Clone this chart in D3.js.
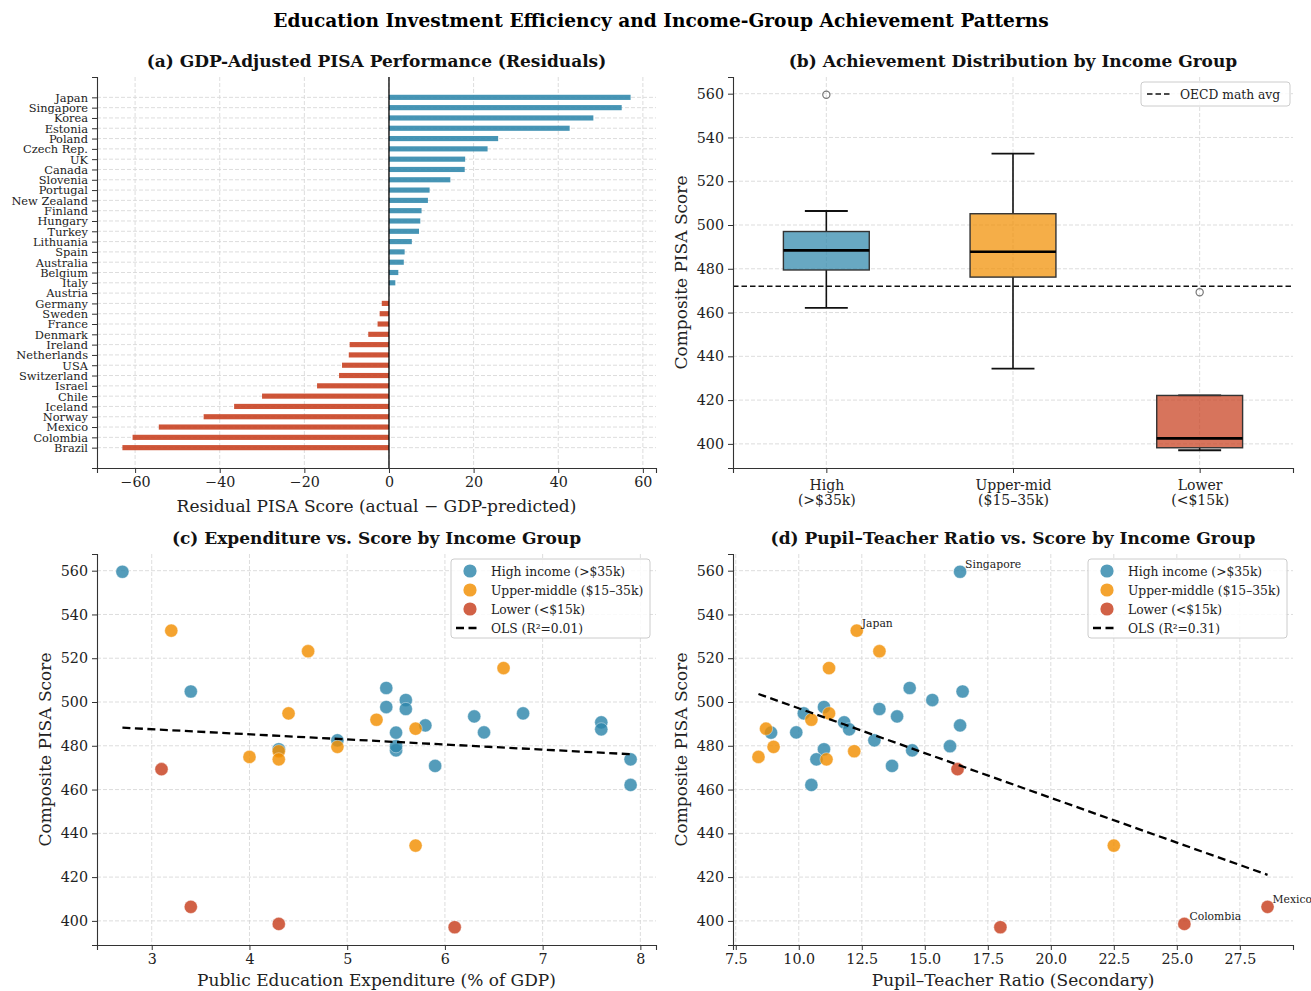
<!DOCTYPE html>
<html>
<head>
<meta charset="utf-8">
<script src="https://cdn.jsdelivr.net/npm/d3@7"></script>
<style>
body { margin: 0; background: #fff; }
text { font-family: "DejaVu Serif", serif; }
</style>
</head>
<body>
<script>
var width = 1311, height = 991;

// ---- data ----
// (a) residuals, sorted from top to bottom
var resCountries = ["Japan","Singapore","Korea","Estonia","Poland","Czech Rep.","UK","Canada","Slovenia","Portugal",
  "New Zealand","Finland","Hungary","Turkey","Lithuania","Spain","Australia","Belgium","Italy","Austria",
  "Germany","Sweden","France","Denmark","Ireland","Netherlands","USA","Switzerland","Israel","Chile",
  "Iceland","Norway","Mexico","Colombia","Brazil"];
var resValues = [57.1, 55.0, 48.3, 42.7, 25.8, 23.3, 18.0, 17.9, 14.5, 9.6,
  9.2, 7.7, 7.4, 7.1, 5.4, 3.7, 3.5, 2.2, 1.5, 0.1,
  -1.7, -2.2, -2.7, -4.9, -9.3, -9.5, -11.1, -11.8, -17.0, -30.0,
  -36.6, -43.8, -54.4, -60.6, -63.0];

// income groups
var groupNames = ["High income (>$35k)", "Upper-middle ($15–35k)", "Lower (<$15k)"];
var groupTicks = [["High", "(>$35k)"], ["Upper-mid", "($15–35k)"], ["Lower", "(<$15k)"]];
var groupColors = ["#2E86AB", "#F18F01", "#C73E1D"];
var oecdMathAvg = 472;

// (b)(c)(d) one entry per country
var ptGroup = [0,0,0,0,0,0,0,0,0,0, 0,0,0,0,0,0,0,0,0,0, 1,1,1,1,1,1,1,1,1,1,1, 2,2,2,2];
var ptScore = [559.5, 504.8, 506.4, 500.9, 496.8, 493.4, 497.7, 494.8, 490.7, 487.5,
  489.3, 486.0, 486.1, 482.5, 477.9, 479.8, 478.4, 473.8, 470.8, 462.1,
  532.6, 523.2, 515.5, 494.8, 491.9, 487.8, 479.5, 477.5, 474.9, 473.8, 434.4,
  469.3, 406.4, 398.6, 397.1];
var ptSpend = [2.7, 3.4, 5.4, 5.6, 5.6, 6.3, 5.4, 6.8, 7.6, 7.6,
  5.8, 5.5, 6.4, 4.9, 5.5, 5.5, 4.3, 7.9, 5.9, 7.9,
  3.2, 4.6, 6.6, 4.4, 5.3, 5.7, 4.9, 4.3, 4.0, 4.3, 5.7,
  3.1, 3.4, 4.3, 6.1];
var ptRatio = [16.4, 16.5, 14.4, 15.3, 13.2, 13.9, 11.0, 10.2, 11.8, 12.0,
  16.4, 8.9, 9.9, 13.0, 14.5, 16.0, 11.0, 10.7, 13.7, 10.5,
  12.3, 13.2, 11.2, 11.2, 10.5, 8.7, 9.0, 12.2, 8.4, 11.1, 22.5,
  16.3, 28.6, 25.3, 18.0];
var ptLabel = ["Singapore","","","","","","","","","", "","","","","","","","","","",
  "Japan","","","","","","","","","","", "","Mexico","Colombia",""];

var points = ptScore.map(function(s, i){
    return {score: s, spend: ptSpend[i], ratio: ptRatio[i], group: ptGroup[i], label: ptLabel[i]};
});

// ---- page ----
var svg = d3.select("body")
.append("svg")
.attr("width", width)
.attr("height", height)
.attr("id", "svg");

var textColor = "#222";
var gridColor = "#d9d9d9";

svg.append("text")
.attr("x", 661).attr("y", 27)
.attr("text-anchor", "middle")
.attr("font-size", "18.6px")
.attr("font-weight", "bold")
.attr("fill", "#000")
.text("Education Investment Efficiency and Income-Group Achievement Patterns");

var colL = [97, 656], colR = [733, 1293];
var rowT = [77, 468], rowB = [554, 945];

function padded(lo, hi){
    var m = (hi - lo) * 0.05;
    return [lo - m, hi + m];
}

function styleAxis(g, size){
    g.selectAll(".domain").attr("stroke", "#333").attr("stroke-width", 1.1);
    g.selectAll(".tick line").attr("stroke", "#333").attr("stroke-width", 1);
    g.selectAll(".tick text").attr("fill", textColor).attr("font-size", size || "14.3px")
     .attr("font-family", "DejaVu Serif");
}

function title(x, y, t){
    svg.append("text").attr("x", x).attr("y", y)
    .attr("text-anchor", "middle").attr("font-size", "17px").attr("font-weight", "bold")
    .attr("fill", "#111").text(t);
}

function xLabel(x, y, t){
    svg.append("text").attr("x", x).attr("y", y)
    .attr("text-anchor", "middle").attr("font-size", "17px").attr("fill", textColor).text(t);
}

function yLabel(x, y, t){
    svg.append("text").attr("transform", "translate(" + x + "," + y + ") rotate(-90)")
    .attr("text-anchor", "middle").attr("font-size", "17px").attr("fill", textColor).text(t);
}

function grid(g, xs, ys, xVals, yVals, xr, yr){
    g.selectAll(".gx").data(xVals).enter().append("line")
    .attr("x1", function(d){ return xs(d); }).attr("x2", function(d){ return xs(d); })
    .attr("y1", yr[0]).attr("y2", yr[1])
    .attr("stroke", gridColor).attr("stroke-width", 0.9).attr("stroke-dasharray", "4,2");
    g.selectAll(".gy").data(yVals).enter().append("line")
    .attr("y1", function(d){ return ys(d); }).attr("y2", function(d){ return ys(d); })
    .attr("x1", xr[0]).attr("x2", xr[1])
    .attr("stroke", gridColor).attr("stroke-width", 0.9).attr("stroke-dasharray", "4,2");
}

// ---------- (a) residual bars ----------
var n = resCountries.length;
var barH = 0.5;
var xA = d3.scaleLinear().domain(padded(d3.min(resValues), d3.max(resValues))).range(colL);
var yA = d3.scaleLinear().domain(padded(-barH / 2, n - 1 + barH / 2)).range(rowT);
var gA = svg.append("g");

grid(gA, xA, yA, [-60, -40, -20, 0, 20, 40, 60], d3.range(n), colL, rowT);

gA.selectAll(".bar").data(resValues).enter().append("rect")
.attr("x", function(d){ return xA(Math.min(0, d)); })
.attr("y", function(d, i){ return yA(i - barH / 2); })
.attr("width", function(d){ return Math.abs(xA(d) - xA(0)); })
.attr("height", function(){ return yA(barH) - yA(0); })
.attr("fill", function(d){ return d >= 0 ? groupColors[0] : groupColors[2]; })
.attr("fill-opacity", 0.88);

gA.append("line")
.attr("x1", xA(0)).attr("x2", xA(0)).attr("y1", rowT[0]).attr("y2", rowT[1])
.attr("stroke", "#000").attr("stroke-width", 1.3);

var axA = gA.append("g").attr("transform", "translate(0," + rowT[1] + ")")
.call(d3.axisBottom(xA).tickValues([-60, -40, -20, 0, 20, 40, 60]).tickSizeOuter(0).tickSize(5).tickPadding(4));
styleAxis(axA);
var ayA = gA.append("g").attr("transform", "translate(" + colL[0] + ",0)")
.call(d3.axisLeft(yA).tickValues(d3.range(n)).tickFormat(function(i){ return resCountries[i]; })
  .tickSizeOuter(0).tickSize(5).tickPadding(4));
styleAxis(ayA, "11.4px");
ayA.selectAll(".tick text").attr("dy", "0.34em");

title((colL[0] + colL[1]) / 2, 67, "(a) GDP-Adjusted PISA Performance (Residuals)");
xLabel((colL[0] + colL[1]) / 2, 512, "Residual PISA Score (actual \u2212 GDP-predicted)");

// ---------- (b) box plots ----------
var scoreDomain = padded(d3.min(ptScore), d3.max(ptScore));
var xB = d3.scaleLinear().domain([0.5, 3.5]).range(colR);
var yB = d3.scaleLinear().domain(scoreDomain).range([rowT[1], rowT[0]]);
var gB = svg.append("g");
var scoreTicks = d3.range(400, 561, 20);

grid(gB, xB, yB, [1, 2, 3], scoreTicks, colR, rowT);

var boxes = groupNames.map(function(name, k){
    var v = points.filter(function(p){ return p.group === k; })
                  .map(function(p){ return p.score; }).sort(d3.ascending);
    var q1 = d3.quantile(v, 0.25), med = d3.quantile(v, 0.5), q3 = d3.quantile(v, 0.75);
    var iqr = q3 - q1;
    var inside = v.filter(function(d){ return d >= q1 - 1.5 * iqr && d <= q3 + 1.5 * iqr; });
    return {
        pos: k + 1, q1: q1, med: med, q3: q3,
        lo: Math.min(q1, d3.min(inside)), hi: Math.max(q3, d3.max(inside)),
        out: v.filter(function(d){ return d < q1 - 1.5 * iqr || d > q3 + 1.5 * iqr; }),
        color: groupColors[k]
    };
});

var boxW = 0.46;
boxes.forEach(function(b){
    var g = gB.append("g");
    var cx = xB(b.pos);
    var cap = (xB(boxW / 4) - xB(0));
    [[b.q3, b.hi], [b.q1, b.lo]].forEach(function(w){
        g.append("line").attr("x1", cx).attr("x2", cx).attr("y1", yB(w[0])).attr("y2", yB(w[1]))
        .attr("stroke", "#111").attr("stroke-width", 1.6);
        g.append("line").attr("x1", cx - cap).attr("x2", cx + cap).attr("y1", yB(w[1])).attr("y2", yB(w[1]))
        .attr("stroke", "#111").attr("stroke-width", 1.8);
    });
    g.append("rect")
    .attr("x", xB(b.pos - boxW / 2)).attr("width", xB(boxW) - xB(0))
    .attr("y", yB(b.q3)).attr("height", yB(b.q1) - yB(b.q3))
    .attr("fill", b.color).attr("fill-opacity", 0.72)
    .attr("stroke", "#333").attr("stroke-width", 1.4);
    g.append("line").attr("x1", xB(b.pos - boxW / 2)).attr("x2", xB(b.pos + boxW / 2))
    .attr("y1", yB(b.med)).attr("y2", yB(b.med))
    .attr("stroke", "#000").attr("stroke-width", 2.6);
    g.selectAll(".out").data(b.out).enter().append("circle")
    .attr("cx", cx).attr("cy", function(d){ return yB(d); }).attr("r", 3.6)
    .attr("fill", "none").attr("stroke", "#777").attr("stroke-width", 1.2);
});

gB.append("line")
.attr("x1", colR[0]).attr("x2", colR[1]).attr("y1", yB(oecdMathAvg)).attr("y2", yB(oecdMathAvg))
.attr("stroke", "#111").attr("stroke-width", 1.5).attr("stroke-dasharray", "5.5,3");

var axB = gB.append("g").attr("transform", "translate(0," + rowT[1] + ")")
.call(d3.axisBottom(xB).tickValues([1, 2, 3]).tickFormat("").tickSizeOuter(0).tickSize(5));
styleAxis(axB);
axB.selectAll(".tick").each(function(d){
    var t = d3.select(this).append("text").attr("fill", textColor).attr("font-size", "14px")
    .attr("text-anchor", "middle").attr("font-family", "DejaVu Serif");
    t.append("tspan").attr("x", 0).attr("y", 22).text(groupTicks[d - 1][0]);
    t.append("tspan").attr("x", 0).attr("y", 37).text(groupTicks[d - 1][1]);
});
var ayB = gB.append("g").attr("transform", "translate(" + colR[0] + ",0)")
.call(d3.axisLeft(yB).tickValues(scoreTicks).tickSizeOuter(0).tickSize(5).tickPadding(4));
styleAxis(ayB);

// legend (b)
var lgB = gB.append("g").attr("transform", "translate(1141,82)");
lgB.append("rect").attr("width", 149).attr("height", 24).attr("rx", 3)
.attr("fill", "#fff").attr("fill-opacity", 0.85).attr("stroke", "#ccc").attr("stroke-width", 1);
lgB.append("line").attr("x1", 6).attr("x2", 31).attr("y1", 12).attr("y2", 12)
.attr("stroke", "#111").attr("stroke-width", 1.5).attr("stroke-dasharray", "5.5,3");
lgB.append("text").attr("x", 39).attr("y", 16.5).attr("font-size", "12.3px").attr("fill", textColor)
.text("OECD math avg");

title((colR[0] + colR[1]) / 2, 67, "(b) Achievement Distribution by Income Group");
yLabel(687, (rowT[0] + rowT[1]) / 2, "Composite PISA Score");

// ---------- (c) and (d) scatter ----------
function ols(xs, ys){
    var mx = d3.mean(xs), my = d3.mean(ys);
    var sxy = d3.sum(xs, function(x, i){ return (x - mx) * (ys[i] - my); });
    var sxx = d3.sum(xs, function(x){ return (x - mx) * (x - mx); });
    var b = sxy / sxx, a = my - b * mx;
    var ssr = d3.sum(xs, function(x, i){ var e = ys[i] - (a + b * x); return e * e; });
    var sst = d3.sum(ys, function(y){ return (y - my) * (y - my); });
    return {a: a, b: b, r2: 1 - ssr / sst};
}

function scatterPanel(key, xr, xTicks, xFmt, titleText, xText, yLabelX){
    var xv = points.map(function(p){ return p[key]; });
    var xs = d3.scaleLinear().domain(padded(d3.min(xv), d3.max(xv))).range(xr);
    var ys = d3.scaleLinear().domain(scoreDomain).range([rowB[1], rowB[0]]);
    var g = svg.append("g");

    grid(g, xs, ys, xTicks, scoreTicks, xr, rowB);

    g.selectAll(".pt").data(points).enter().append("circle")
    .attr("cx", function(d){ return xs(d[key]); })
    .attr("cy", function(d){ return ys(d.score); })
    .attr("r", 6.6)
    .attr("fill", function(d){ return groupColors[d.group]; })
    .attr("fill-opacity", 0.82)
    .attr("stroke", "#fff").attr("stroke-width", 0.4);

    var fit = ols(xv, ptScore);
    var x0 = d3.min(xv), x1 = d3.max(xv);
    g.append("line")
    .attr("x1", xs(x0)).attr("y1", ys(fit.a + fit.b * x0))
    .attr("x2", xs(x1)).attr("y2", ys(fit.a + fit.b * x1))
    .attr("stroke", "#000").attr("stroke-width", 2.3).attr("stroke-dasharray", "8,4.5");

    g.selectAll(".lab").data(points.filter(function(p){ return p.label && key === "ratio"; }))
    .enter().append("text")
    .attr("x", function(d){ return xs(d[key]) + 5; })
    .attr("y", function(d){ return ys(d.score) - 4; })
    .attr("font-size", "10.8px").attr("fill", textColor)
    .text(function(d){ return d.label; });

    var ax = g.append("g").attr("transform", "translate(0," + rowB[1] + ")")
    .call(d3.axisBottom(xs).tickValues(xTicks).tickFormat(d3.format(xFmt)).tickSizeOuter(0).tickSize(5).tickPadding(4));
    styleAxis(ax);
    var ay = g.append("g").attr("transform", "translate(" + xr[0] + ",0)")
    .call(d3.axisLeft(ys).tickValues(scoreTicks).tickSizeOuter(0).tickSize(5).tickPadding(4));
    styleAxis(ay);

    // legend
    var lx = xr[1] - 205, ly = 559;
    var lg = g.append("g").attr("transform", "translate(" + lx + "," + ly + ")");
    lg.append("rect").attr("width", 199).attr("height", 79).attr("rx", 3)
    .attr("fill", "#fff").attr("fill-opacity", 0.85).attr("stroke", "#ccc").attr("stroke-width", 1);
    groupNames.forEach(function(name, k){
        lg.append("circle").attr("cx", 19).attr("cy", 12 + k * 19).attr("r", 6.6)
        .attr("fill", groupColors[k]).attr("fill-opacity", 0.82);
        lg.append("text").attr("x", 40).attr("y", 16.5 + k * 19).attr("font-size", "12.3px")
        .attr("fill", textColor).text(name);
    });
    lg.append("line").attr("x1", 5).attr("x2", 30).attr("y1", 69).attr("y2", 69)
    .attr("stroke", "#000").attr("stroke-width", 2.3).attr("stroke-dasharray", "8,4.5");
    lg.append("text").attr("x", 40).attr("y", 73.5).attr("font-size", "12.3px").attr("fill", textColor)
    .text("OLS (R\u00b2=" + fit.r2.toFixed(2) + ")");

    title((xr[0] + xr[1]) / 2, 544, titleText);
    xLabel((xr[0] + xr[1]) / 2, 986, xText);
    yLabel(yLabelX, (rowB[0] + rowB[1]) / 2, "Composite PISA Score");
}

scatterPanel("spend", colL, [3, 4, 5, 6, 7, 8], "d",
  "(c) Expenditure vs. Score by Income Group", "Public Education Expenditure (% of GDP)", 51);
scatterPanel("ratio", colR, d3.range(7.5, 28, 2.5), ".1f",
  "(d) Pupil\u2013Teacher Ratio vs. Score by Income Group", "Pupil\u2013Teacher Ratio (Secondary)", 687);
</script>
</body>
</html>
